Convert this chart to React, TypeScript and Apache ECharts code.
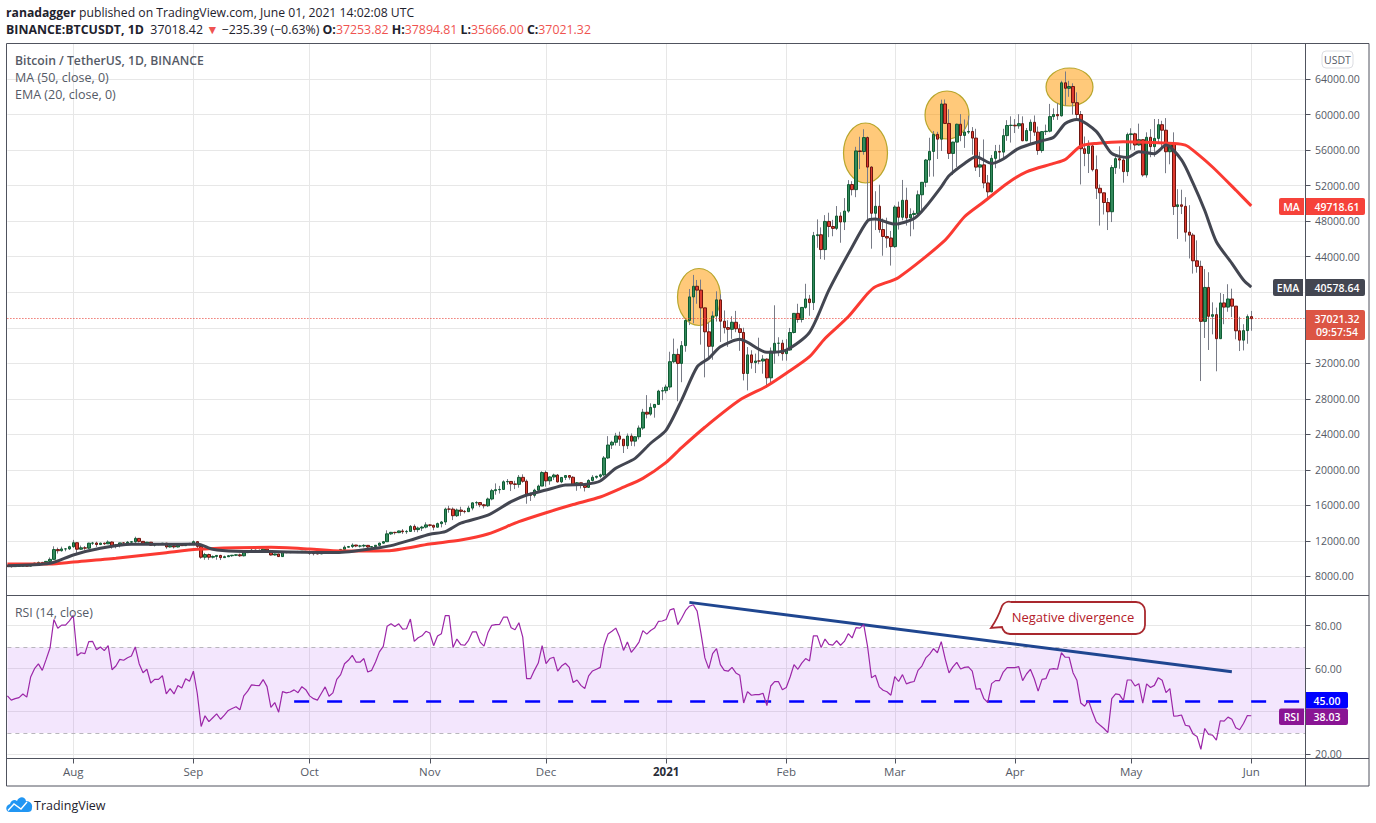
import React, { useEffect, useRef } from "react";
import * as echarts from "echarts";

const FONT = '"Open Sans", "Noto Sans", sans-serif';

const closesJul = [9132,9110,9155,9170,9208,9160,9390,9520,9585,9535,9700,9930,11030,10900,11100,11110,11350];
const closesAug = [11800,11070,11230,11190,11750,11770,11600,11755,11680,11880,11400,11565,11780,11765,11865,11910,12290,11955,11755,11860,11520,11680,11650,11750,11325,11460,11330,11530,11470,11710,11650];
const closesSep = [11920,11390,10170,10470,10170,10255,10370,10125,10225,10340,10395,10440,10330,10680,10785,10955,10940,10935,11080,10920,10420,10535,10240,10735,10690,10725,10775,10695,10840,10775];
const closesOct = [10620,10570,10545,10670,10790,10600,10670,10925,11050,11295,11370,11540,11430,11430,11505,11320,11365,11515,11750,11915,12800,12970,12935,13125,13040,13070,13640,13280,13455,13560,13805];
const closesNov = [13760,13550,13950,14135,15590,15580,14840,15480,15330,15300,15700,16290,16320,16070,15960,16725,17660,17770,17800,18660,18700,18420,18370,19160,18720,17150,17140,17720,18180,19700];
const closesDec = [18765,19205,19420,18650,19150,19360,19170,18320,18550,18250,18035,18810,19170,19275,19440,21345,22800,23110,23820,23455,22720,23810,23235,23730,24710,26490,26280,27035,27370,28875,28920];
const closesJan = [29330,32180,33000,31985,33990,36820,39470,40670,40240,38240,35545,33910,37330,39140,36740,36020,35830,36620,35890,35470,30850,32945,32080,32260,32255,32470,30365,33365,34250,34260,33090];
const closesFeb = [33500,35465,37620,36935,38290,39240,38830,46375,46470,44800,47970,47400,47190,48575,47910,49135,52120,51550,55905,55840,57410,54090,48890,49675,47055,46275,46105,45135];
const closesMar = [49590,48440,50350,48375,48750,48870,50970,52375,54885,55850,57770,57230,61190,59000,55625,56900,58910,57650,58030,58100,57350,54085,54340,52300,51300,55070,55840,55775,57630,58770,58800];
const closesApr = [58730,58975,57055,58200,59130,58020,55950,58080,58130,59770,60005,59860,63575,62960,63160,61335,60005,56150,55620,56470,53800,51700,51190,50100,49060,54030,55035,54880,53580,57750];
const closesMay = [57830,56575,57170,53200,57440,56390,57315,58860,58240,55815,56670,49645,49840,49670,46760,46430,43540,42910,36720,40540,37290,37475,34770,38795,38325,39240,38435,35660,34605,35680,37253.82];
const closesJun = [37021.32];

const highsJul = [9250,9220,9185,9220,9220,9225,9430,9540,9680,9640,9730,10150,11400,11250,11360,11170,11460];
const highsAug = [12120,11480,11480,11420,11800,11900,11920,11810,11810,12070,11950,11650,11790,11850,12000,11990,12480,12330,11985,11890,11890,11690,11710,11720,11790,11550,11540,11590,11600,11720,11790];
const highsSep = [12060,11950,11450,10660,10570,10370,10410,10440,10350,10420,10420,10480,10580,10750,10940,11100,11040,11040,11170,11050,10990,10580,10550,10750,10760,10790,10800,10880,10860,10850];
const highsOct = [10930,10670,10590,10700,10800,10800,10680,10960,11100,11490,11440,11730,11560,11560,11630,11550,11400,11520,11820,12000,13200,13020,13030,13170,13340,13240,13790,13860,13620,13700,14100];
const highsNov = [13880,13830,14070,14250,15750,15960,15770,15650,15850,15490,15960,16350,16480,16350,16170,16880,17860,18480,18200,18820,18970,18750,18770,19420,19500,18920,17460,17880,18340,19850];
const highsDec = [19920,19300,19570,19540,19180,19420,19420,19290,18630,18560,18290,18950,19410,19350,19570,21560,23800,23280,24170,24300,23410,24100,24100,23800,25000,26870,28420,27500,27410,29020,29300];
const highsJan = [29600,33300,34780,33650,34500,36940,40365,41950,41380,41420,38260,36630,37850,40100,39750,37950,36850,37300,37900,36400,36000,33830,33470,33090,34880,32920,32550,33780,38530,34930,34640];
const highsFeb = [34720,35980,37650,38700,38310,40950,39700,46790,48200,47300,48680,48950,48150,49700,49000,50600,52620,52500,56370,57500,58350,57530,54180,51370,52100,48300,48390,46900];
const highsMar = [49790,50200,52640,51770,49450,49200,51450,52400,55000,57390,58150,58060,61680,61700,60600,56950,58980,60050,59450,59880,58590,58400,55800,57200,53200,55450,56580,56600,58400,59370,59800];
const highsApr = [59490,60040,59800,58490,59450,59900,58650,58150,58870,61200,60700,61300,63800,64850,63800,63520,62500,60400,57530,57100,56760,55400,52130,51170,50600,54300,55450,56430,55200,57960];
const highsMay = [58460,57950,58980,57200,58000,58360,59500,59500,59300,59600,56900,58000,51600,51540,50700,49800,46650,45840,43550,42600,42250,38860,38270,39920,39800,40900,40400,38200,37240,36400,37500];
const highsJun = [37894.81];

const lowsJul = [9080,9000,9085,9130,9100,9130,9150,9300,9450,9480,9530,9660,9900,10580,10800,10840,10980];
const lowsAug = [11220,10660,11010,11000,11090,11550,11330,11530,11530,11680,11130,11170,11270,11690,11680,11690,11780,11830,11580,11690,11480,11380,11520,11600,11120,11260,11150,11270,11430,11450,11520];
const lowsSep = [11620,11160,10000,9880,9875,10030,9880,9850,10120,10210,10210,10300,10210,10260,10650,10680,10760,10820,10890,10810,10360,10360,10200,10200,10620,10630,10700,10640,10640,10670];
const lowsOct = [10440,10370,10500,10520,10630,10530,10530,10550,10820,11100,11270,11200,11300,11260,11270,11200,11250,11340,11420,11680,11890,12680,12720,12880,12800,12800,13040,13000,12980,13120,13420];
const lowsNov = [13620,13200,13520,13530,13800,15180,14350,14700,14830,15100,15270,15450,15960,15800,15660,15840,16570,17210,17340,17750,18320,17620,17840,18000,18550,16190,16500,16880,17520,18180];
const lowsDec = [18110,18330,18870,18570,18500,18860,18900,18200,17650,17910,17570,17960,18700,19000,19050,19280,21230,22350,22750,22700,21900,22350,22700,22650,23430,24500,25800,26100,25880,27320,27850];
const lowsJan = [28620,29000,32000,27730,29870,33300,36300,36500,38700,34100,30420,32500,32400,36700,34400,35360,33850,34750,35500,33400,30070,28950,31390,30900,31900,30830,29240,29800,31950,32800,32300];
const lowsFeb = [32300,33420,35360,36570,36600,38140,37350,38000,45000,43730,43650,46200,46300,47000,45570,47000,48950,50900,50700,53860,55480,48000,44900,47000,46700,44110,45000,43000];
const lowsMar = [45000,47050,48100,47500,46300,47070,48550,49270,51830,53000,53020,55000,55900,59000,55000,53200,54100,57000,56250,57820,55480,53650,52970,51700,50420,51250,53960,54650,54900,57050,56850];
const lowsApr = [57920,58400,57000,57000,56800,57600,55470,55700,57700,58000,59400,59400,59770,61000,62000,60000,59580,52130,54190,53420,53600,50500,47500,48750,47000,47900,53320,53900,52330,53070];
const lowsMay = [56040,56000,56500,53000,52900,55200,55250,56900,56200,53400,54400,48700,46000,48800,45700,43800,42100,42200,30000,34850,33500,35260,31100,34800,36400,37800,37200,34700,33380,33450,34200];
const lowsJun = [35666];

const firstOpen = 9230;

const emaPoints: [string, number][] = [
  ["2020-07-15",9200],["2020-07-26",9485],["2020-08-01",10420],["2020-08-08",11170],["2020-08-16",11620],["2020-08-25",11620],["2020-09-02",11650],["2020-09-06",11060],["2020-09-12",10835],["2020-09-21",10800],["2020-09-30",10720],["2020-10-08",10700],["2020-10-19",11240],["2020-10-22",11470],["2020-10-27",12100],["2020-11-01",12750],["2020-11-05",13050],["2020-11-09",14000],["2020-11-16",14900],["2020-11-22",16420],["2020-11-26",17170],["2020-12-01",17730],["2020-12-06",18300],["2020-12-11",18370],["2020-12-15",18750],["2020-12-19",20180],["2020-12-24",21300],["2020-12-28",23000],["2021-01-01",24490],["2021-01-05",27860],["2021-01-09",31600],["2021-01-12",32560],["2021-01-15",33860],["2021-01-20",34700],["2021-01-27",33230],["2021-02-01",33490],["2021-02-07",35480],["2021-02-12",40240],["2021-02-18",45100],["2021-02-22",48050],["2021-02-24",48240],["2021-03-01",47670],["2021-03-06",48300],["2021-03-09",49620],["2021-03-13",51870],["2021-03-15",53110],["2021-03-19",54500],["2021-03-22",55250],["2021-03-26",54500],["2021-03-29",55000],["2021-04-02",56200],["2021-04-08",57050],["2021-04-11",57440],["2021-04-14",59000],["2021-04-17",59450],["2021-04-22",58100],["2021-04-26",55620],["2021-04-30",55170],["2021-05-03",55800],["2021-05-07",55600],["2021-05-10",56560],["2021-05-14",54900],["2021-05-17",52250],["2021-05-20",49200],["2021-05-23",45680],["2021-05-27",43250],["2021-05-30",41370],["2021-06-01",40578.64],
];
const maPoints: [string, number][] = [
  ["2020-07-15",9400],["2020-07-26",9400],["2020-08-01",9630],["2020-08-12",10050],["2020-08-25",10680],["2020-09-02",11060],["2020-09-12",11240],["2020-09-21",11280],["2020-10-01",11090],["2020-10-09",10870],["2020-10-21",10900],["2020-11-01",11660],["2020-11-09",12100],["2020-11-16",12780],["2020-11-24",14170],["2020-12-01",15180],["2020-12-08",16100],["2020-12-15",16950],["2020-12-21",18050],["2020-12-26",19050],["2021-01-01",20850],["2021-01-05",22500],["2021-01-11",24800],["2021-01-20",27860],["2021-01-27",29440],["2021-02-01",30870],["2021-02-07",32740],["2021-02-11",34800],["2021-02-17",37240],["2021-02-22",39860],["2021-02-24",40620],["2021-03-02",41670],["2021-03-14",45870],["2021-03-19",48500],["2021-03-24",50180],["2021-03-30",52250],["2021-04-04",53560],["2021-04-11",54500],["2021-04-14",54950],["2021-04-18",56450],["2021-04-22",56750],["2021-04-29",56940],["2021-05-12",56750],["2021-05-15",56560],["2021-05-17",55970],["2021-05-22",54100],["2021-05-28",51500],["2021-06-01",49718.61],
];

const rsiJul = [47.3,45.3,46,46.5,48.2,46.7,56.1,60,62.2,59.2,64.3,69.6,82.9,78.8,80.3,80.3,82.3];
const rsiAug = [84.8,66,67.4,67,72.6,72.7,68.8,70.1,68.4,70.7,59.5,61.2,64.3,63.9,65.1,65.9,70.1,62.3,58.1,59.7,53.3,55,55,56.7,48.2,50.7,48.2,52.1,51,55.3,54.1];
const rsiSep = [58.8,48.4,33,38,35.3,37.1,38.9,36.4,38.3,40.5,41.4,42.2,40.8,47.3,49.5,52.4,52.2,52.1,54.9,51.6,41.9,44.2,39.7,49.3,48.7,49.1,50.1,48.8,51.6,50.2];
const rsiOct = [47.3,46,45.3,48.4,51.5,47.1,48.7,55,57.2,62.3,63.9,66.2,63,63,64.7,58.4,59.2,63.1,67.8,70.4,79.8,80.9,79.7,80.9,78.4,78.6,83.1,72.7,74.4,75.3,77.4];
const rsiNov = [76.6,70.7,75.2,76.3,84.7,84.7,69.8,73.8,71.2,70.9,73.2,77.1,77.2,72.4,70.5,76.7,80.2,80.5,80.6,84,84,79.1,78.1,81.4,74.7,55.3,55.3,59.2,62.6,70.7];
const rsiDec = [62.3,64.7,65.3,58.8,61.2,62.5,60.6,53.5,54.7,52.2,50.7,56.6,58.9,59.7,60.6,70.9,76.1,77.4,78.9,74.7,68.5,72.4,67.6,69.8,72.4,77.7,76.1,77.8,78.9,82,82.2];
const rsiJan = [82.9,87.4,88,80.5,83.5,87,89.1,89.8,86.8,76.3,65,60,67,69.3,61.9,59.2,58.8,60.6,58,56.9,44,49.3,47.6,47.9,47.9,48.5,42.8,51.9,53.9,53.9,50.2];
const rsiFeb = [51.2,56.1,61.9,59.7,62.6,64.7,63.6,75.3,75.3,69.8,73.8,71.3,71,73,70.9,72.7,76.3,74.3,79.1,78.9,80.5,70.1,55.8,56.9,51.5,49.9,49.2,47.6];
const rsiMar = [56.3,54,57.2,52.9,53.6,54,59.2,61.2,65,66.8,69.3,67.4,72.6,64.7,58,60.8,62.9,59.8,60.6,60.8,58.8,50.4,50.7,46,44.2,53,54.4,54.4,58.4,60.5,60.5];
const rsiApr = [60.5,60.9,54.4,57.5,59.7,55.3,49.5,55,55.3,59.7,60,59.7,67.4,65.3,65.3,58.1,54.6,44,42.5,45.1,39.8,35.2,33.6,32.1,30.2,46,48.2,47.9,45.1,54.7];
const rsiMay = [54.7,51.9,53,43.9,52.9,51.2,52.2,55.8,54.6,48.8,50.7,37.8,38,38.4,33.6,33.2,29.5,28.4,22.4,32.1,29.3,29,26.7,35.7,35.5,37.4,36.4,32.4,31.5,34.4,38.1];
const rsiJun = [38.03];

const priceTicks = [8000,12000,16000,20000,24000,28000,32000,36000,40000,44000,48000,52000,56000,60000,64000];
const priceLabels = [8000,12000,16000,20000,24000,28000,32000,44000,48000,52000,56000,60000,64000];
const rsiTicks = [20,40,60,80];
const rsiLabels = [20,60,80];

const closes = [...closesJul,...closesAug,...closesSep,...closesOct,...closesNov,...closesDec,...closesJan,...closesFeb,...closesMar,...closesApr,...closesMay,...closesJun];
const highs = [...highsJul,...highsAug,...highsSep,...highsOct,...highsNov,...highsDec,...highsJan,...highsFeb,...highsMar,...highsApr,...highsMay,...highsJun];
const lows = [...lowsJul,...lowsAug,...lowsSep,...lowsOct,...lowsNov,...lowsDec,...lowsJan,...lowsFeb,...lowsMar,...lowsApr,...lowsMay,...lowsJun];
const rsi = [...rsiJul,...rsiAug,...rsiSep,...rsiOct,...rsiNov,...rsiDec,...rsiJan,...rsiFeb,...rsiMar,...rsiApr,...rsiMay,...rsiJun];

const dates: string[] = [];
for (let i = 0; i < 336; i++) {
  dates.push(new Date(Date.UTC(2020, 6, 15 + i)).toISOString().slice(0, 10));
}
const monthNames = ["Jan","Feb","Mar","Apr","May","Jun","Jul","Aug","Sep","Oct","Nov","Dec"];
const isFirst = (_: number, v: string) => v.endsWith("-01");

const opens = closes.map((_, i) => (i === 0 ? firstOpen : closes[i - 1]));
const wickData = closes.map((c, i) => [opens[i], c, Math.min(lows[i], opens[i], c), Math.max(highs[i], opens[i], c)]);
const bodyData = closes.map((c, i) => [opens[i], c, Math.min(opens[i], c), Math.max(opens[i], c)]);

const GRID_LEFT = 7.4;
const GRID_WIDTH = 1298.1;
const AXIS = "#50535e";
const GRID_LINE = "#e7e7e7";
const TXT = "#555a66";

echarts.graphic.registerShape(
  "callout",
  echarts.graphic.extendPath(
    "M1011 602 H1136 A9 9 0 0 1 1145 611 V625 A9 9 0 0 1 1136 634 H1010 A9 9 0 0 1 1002 627 L991 628 Q998 618 1002 606 A8 8 0 0 1 1011 602 Z",
    {}
  ) as any
);
echarts.graphic.registerShape(
  "tvcloud",
  echarts.graphic.extendPath(
    "M10 812 C5 812 5 805 10 804 C11 800 15 799 17 801 C19 796 25 796 26 801 C30 801 33 804 32 808 C32 811 30 812 28 812 Z",
    {}
  ) as any
);

function text(x: number, y: number, t: string, styleExtra: any = {}) {
  return {
    type: "text", x, y, z: 20,
    style: { text: t, font: `12px ${FONT}`, fill: TXT, textAlign: "left", textVerticalAlign: "middle", ...styleExtra },
  };
}
function rect(x: number, y: number, w: number, h: number, fill: string, r: number | number[] = 0) {
  return { type: "rect", z: 18, shape: { x, y, width: w, height: h, r }, style: { fill } };
}
function line(x1: number, y1: number, x2: number, y2: number) {
  return { type: "line", z: 15, shape: { x1, y1, x2, y2 }, style: { stroke: AXIS, lineWidth: 1 } };
}
function ellipse(cx: number, cy: number, rx: number, ry: number) {
  return {
    type: "ellipse", z: 1, shape: { cx, cy, rx, ry },
    style: { fill: "rgba(255,152,0,0.52)", stroke: "rgba(175,160,30,0.9)", lineWidth: 1.2 },
  };
}
function tagText(cx: number, cy: number, t: string, size = 10.5) {
  return {
    type: "text", x: cx, y: cy, z: 21,
    style: { text: t, font: `600 ${size}px ${FONT}`, fill: "#fff", textAlign: "center", textVerticalAlign: "middle" },
  };
}

const option: any = {
  animation: false,
  backgroundColor: "#ffffff",
  grid: [
    { left: GRID_LEFT, top: 43.5, width: GRID_WIDTH, height: 552 },
    { left: GRID_LEFT, top: 595.5, width: GRID_WIDTH, height: 163 },
  ],
  xAxis: [
    {
      type: "category", gridIndex: 0, data: dates, boundaryGap: false,
      axisLine: { show: false }, axisTick: { show: false }, axisLabel: { show: false },
      splitLine: { show: true, interval: isFirst, lineStyle: { color: GRID_LINE, width: 1 } },
    },
    {
      type: "category", gridIndex: 1, data: dates, boundaryGap: false,
      axisLine: { show: false },
      axisTick: { show: true, interval: isFirst, length: 5, lineStyle: { color: AXIS } },
      splitLine: { show: true, interval: isFirst, lineStyle: { color: GRID_LINE, width: 1 } },
      axisLabel: {
        show: true, interval: isFirst, margin: 7, fontFamily: FONT, fontSize: 11.5, color: TXT,
        formatter: (v: string) => {
          const m = Number(v.slice(5, 7));
          return m === 1 ? `{b|${v.slice(0, 4)}}` : monthNames[m - 1];
        },
        rich: { b: { fontFamily: FONT, fontSize: 11.5, fontWeight: 700, color: "#2a2e39" } },
      },
    },
  ],
  yAxis: [
    {
      type: "value", gridIndex: 0, position: "right", min: 5860, max: 68000, scale: true,
      axisLine: { show: false },
      axisTick: { show: true, length: 5, customValues: priceTicks, lineStyle: { color: AXIS } },
      splitLine: { show: true, lineStyle: { color: GRID_LINE, width: 1 } },
      axisLabel: {
        show: true, customValues: priceLabels, margin: 9.5, fontFamily: FONT, fontSize: 10.5, color: TXT,
        formatter: (v: number) => v.toFixed(2),
      },
    },
    {
      type: "value", gridIndex: 1, position: "right", min: 18.1, max: 94.1, scale: true,
      axisLine: { show: false },
      axisTick: { show: true, length: 5, customValues: rsiTicks, lineStyle: { color: AXIS } },
      splitLine: { show: true, lineStyle: { color: GRID_LINE, width: 1 } },
      axisLabel: {
        show: true, customValues: rsiLabels, margin: 9.5, fontFamily: FONT, fontSize: 10.5, color: TXT,
        formatter: (v: number) => v.toFixed(2),
      },
    },
  ],
  series: [
    {
      name: "wicks", type: "candlestick", xAxisIndex: 0, yAxisIndex: 0, data: wickData, barWidth: 1, z: 3,
      itemStyle: { color: "#787b86", color0: "#787b86", borderColor: "#787b86", borderColor0: "#787b86", borderWidth: 1 },
      markLine: {
        silent: true, symbol: "none", label: { show: false },
        lineStyle: { color: "#e8392f", type: [1, 2], width: 1 },
        data: [{ yAxis: 37021.32 }],
      },
    },
    {
      name: "bodies", type: "candlestick", xAxisIndex: 0, yAxisIndex: 0, data: bodyData, barWidth: 3, z: 4,
      itemStyle: { color: "#338a5c", color0: "#de3b30", borderColor: "#0f5c33", borderColor0: "#6e1610", borderWidth: 1 },
    },
    {
      name: "MA", type: "line", xAxisIndex: 0, yAxisIndex: 0, data: maPoints, smooth: 0.25, showSymbol: false, z: 5,
      lineStyle: { color: "#fb3a32", width: 3 }, itemStyle: { color: "#fb3a32" },
    },
    {
      name: "EMA", type: "line", xAxisIndex: 0, yAxisIndex: 0, data: emaPoints, smooth: 0.25, showSymbol: false, z: 5,
      lineStyle: { color: "#434651", width: 3 }, itemStyle: { color: "#434651" },
    },
    {
      name: "RSI", type: "line", xAxisIndex: 1, yAxisIndex: 1, data: rsi, showSymbol: false, z: 5,
      lineStyle: { color: "#9c27a8", width: 1.2 }, itemStyle: { color: "#9c27a8" },
      markArea: {
        silent: true, itemStyle: { color: "rgba(153,51,240,0.12)" },
        data: [[{ yAxis: 70 }, { yAxis: 30 }]],
      },
      markLine: {
        silent: true, symbol: "none", label: { show: false },
        data: [
          { yAxis: 70, lineStyle: { color: "#b8b6bc", type: [4, 4], width: 1 } },
          { yAxis: 30, lineStyle: { color: "#b8b6bc", type: [4, 4], width: 1 } },
          [
            { coord: ["2020-09-27", 45], lineStyle: { color: "#0000ff", type: [15, 18], width: 2.6 } },
            { coord: ["2021-06-15", 45] },
          ],
          [
            { coord: ["2021-01-07", 90.9], lineStyle: { color: "#1f4690", type: "solid", width: 3 } },
            { coord: ["2021-05-27", 58.5] },
          ],
        ],
      },
    },
  ],
  graphic: {
    elements: [
      { type: "rect", z: 15, shape: { x: 6.5, y: 43.5, width: 1362.5, height: 742.5 }, style: { fill: "none", stroke: AXIS, lineWidth: 1 } },
      line(6.5, 595.5, 1369, 595.5),
      line(6.5, 758.5, 1369, 758.5),
      line(1305.5, 43.5, 1305.5, 786),

      ellipse(699, 297, 21.5, 28.5),
      ellipse(865.5, 153, 22, 30),
      ellipse(947, 115, 22, 24),
      ellipse(1069.5, 87, 23.5, 19),

      {
        type: "text", x: 6, y: 12, z: 20,
        style: {
          text: "{b|ranadagger} published on TradingView.com, June 01, 2021 14:02:08 UTC",
          font: `12.2px ${FONT}`, fill: "#1e222d", textVerticalAlign: "middle",
          rich: { b: { font: `700 12.2px ${FONT}`, fill: "#1e222d" } },
        },
      },
      {
        type: "text", x: 6, y: 29, z: 20,
        style: {
          text: "{b|BINANCE:BTCUSDT, 1D}  37018.42 {r|▼} −235.39 (−0.63%) {b|O:}{r|37253.82} {b|H:}{r|37894.81} {b|L:}{r|35666.00} {b|C:}{r|37021.32}",
          font: `12.35px ${FONT}`, fill: "#1e222d", textVerticalAlign: "middle",
          rich: {
            b: { font: `700 12.35px ${FONT}`, fill: "#1e222d" },
            r: { font: `12.35px ${FONT}`, fill: "#ef5350" },
          },
        },
      },
      text(15, 60, "Bitcoin / TetherUS, 1D, BINANCE", { font: `600 12.2px ${FONT}` }),
      text(15, 77, "MA (50, close, 0)", { font: `12.5px ${FONT}` }),
      text(15, 94, "EMA (20, close, 0)", { font: `12.5px ${FONT}` }),
      text(15, 612, "RSI (14, close)", { font: `12.3px ${FONT}` }),

      { type: "rect", z: 18, shape: { x: 1322, y: 51, width: 31, height: 17, r: 4 }, style: { fill: "#fff", stroke: "#dcdde2", lineWidth: 1 } },
      text(1337.5, 59.5, "USDT", { textAlign: "center", font: `10.5px ${FONT}` }),

      rect(1279, 198, 25, 17, "#f6423a", [2, 0, 0, 2]),
      rect(1306, 198, 59, 17, "#f6423a", [0, 2, 2, 0]),
      tagText(1291.5, 206.8, "MA"),
      tagText(1337, 206.8, "49718.61"),
      rect(1273, 279, 30, 17, "#434651", [2, 0, 0, 2]),
      rect(1306, 279, 59, 17, "#434651", [0, 2, 2, 0]),
      tagText(1288, 287.8, "EMA"),
      tagText(1337, 287.8, "40578.64"),
      rect(1306, 310, 59, 30, "#dc5544", [0, 2, 2, 0]),
      tagText(1337, 318.8, "37021.32", 10.5),
      tagText(1337, 332, "09:57:54", 10.5),

      rect(1306, 692, 42, 16.5, "#0000ff", [0, 2, 2, 0]),
      tagText(1327, 700.5, "45.00"),
      rect(1279, 708.5, 25, 16.5, "#8a1594", [2, 0, 0, 2]),
      rect(1306, 708.5, 42, 16.5, "#8a1594", [0, 2, 2, 0]),
      tagText(1291.5, 717, "RSI"),
      tagText(1327, 717, "38.03"),

      { type: "callout", z: 16, style: { fill: "#ffffff", stroke: "#a9282e", lineWidth: 1.8 } },
      text(1073, 617, "Negative divergence", { textAlign: "center", fill: "#b3202a", font: `13px ${FONT}` }),

      { type: "tvcloud", z: 16, style: { fill: "#2196f3" } },
      { type: "polyline", z: 17, shape: { points: [[8, 810.5], [14, 804], [21, 809], [27, 802]] }, style: { stroke: "#ffffff", fill: "none", lineWidth: 1.4 } },
      text(34, 805, "TradingView", { fill: "#1e222d", font: `12.5px ${FONT}` }),
    ],
  },
};

export default function App() {
  const ref = useRef<HTMLDivElement>(null);
  useEffect(() => {
    if (!ref.current) return;
    const chart = echarts.init(ref.current, undefined, { renderer: "svg" });
    chart.setOption(option);
    return () => chart.dispose();
  }, []);
  return (
    <div
      ref={ref}
      style={{ position: "absolute", left: 0, top: 0, width: 1376, height: 823, background: "#fff" }}
    />
  );
}
